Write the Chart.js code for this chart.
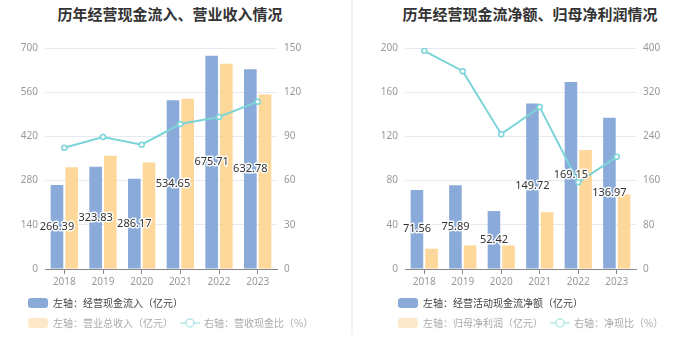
<!DOCTYPE html>
<html>
<head>
<meta charset="utf-8">
<script src="https://cdn.jsdelivr.net/npm/chart.js@4.4.0/dist/chart.umd.min.js"></script>
<style>
  body { margin: 0; width: 700px; height: 360px; background: #fff; position: relative; overflow: hidden;
         font-family: "Noto Sans CJK SC", "Noto Sans", sans-serif; }
  .title { position: absolute; top: 3px; font-size: 15px; font-weight: bold; color: #333; white-space: nowrap;
           transform: translateX(-50%); }
  canvas { position: absolute; top: 0; }
  .divider { position: absolute; left: 351px; top: 0; width: 2px; height: 335px; background: #f3f3f3; }
  .lg { position: absolute; font-size: 10px; line-height: 12px; white-space: nowrap; color: #444; }
  .lg.fade { color: #aaa; }
  .box { position: absolute; width: 20px; height: 10px; border-radius: 3px; }
  .mk { position: absolute; width: 20px; height: 10px; }
</style>
</head>
<body>
<div class="divider"></div>

<div class="title" style="left:170px">历年经营现金流入、营业收入情况</div>
<canvas id="leftChart" width="350" height="300" style="left:0"></canvas>
<div class="box" style="left:28px;top:298px;background:#8aabd9"></div>
<div class="lg" style="left:53px;top:297px">左轴：经营现金流入（亿元）</div>
<div class="box" style="left:28px;top:318px;background:#fde9c9"></div>
<div class="lg fade" style="left:53px;top:317px">左轴：营业总收入（亿元）</div>
<svg class="mk" style="left:180px;top:318px" viewBox="0 0 20 10"><line x1="0" y1="5" x2="20" y2="5" stroke="#b5e7ea" stroke-width="1.5"/><circle cx="10" cy="5" r="4" fill="#fff" stroke="#b5e7ea" stroke-width="1.5"/></svg>
<div class="lg fade" style="left:204px;top:317px">右轴：营收现金比（%）</div>

<div class="title" style="left:530px">历年经营现金流净额、归母净利润情况</div>
<canvas id="rightChart" width="348" height="300" style="left:352px"></canvas>
<div class="box" style="left:398px;top:298px;background:#8aabd9"></div>
<div class="lg" style="left:423px;top:297px">左轴：经营活动现金流净额（亿元）</div>
<div class="box" style="left:398px;top:318px;background:#fde9c9"></div>
<div class="lg fade" style="left:423px;top:317px">左轴：归母净利润（亿元）</div>
<svg class="mk" style="left:550px;top:318px" viewBox="0 0 20 10"><line x1="0" y1="5" x2="20" y2="5" stroke="#b5e7ea" stroke-width="1.5"/><circle cx="10" cy="5" r="4" fill="#fff" stroke="#b5e7ea" stroke-width="1.5"/></svg>
<div class="lg fade" style="left:574px;top:317px">右轴：净现比（%）</div>

<script>
// data
const years = ["2018", "2019", "2020", "2021", "2022", "2023"];
const cashInflow = [266.39, 323.83, 286.17, 534.65, 675.71, 632.78];
const totalRevenue = [322, 359, 337, 539, 650, 553];
const cashRevenueRatio = [82.3, 89.6, 84.4, 98.4, 103.2, 113.6];
const netCashFlow = [71.56, 75.89, 52.42, 149.72, 169.15, 136.97];
const netProfit = [18.4, 21.4, 21.4, 51.4, 107.7, 67.7];
const netCashRatio = [395, 358, 244, 293, 157, 203];

const BLUE = "#8aabd9";
const YELLOW = "#fed89a";
const TEAL = "#7bd4d8";
const tickFont = { family: "'Noto Sans', sans-serif", size: 10 };

// labels drawn in the middle of the blue bars
const barLabels = {
  id: "barLabels",
  afterDatasetsDraw(chart) {
    const ctx = chart.ctx;
    const meta = chart.getDatasetMeta(0);
    ctx.save();
    ctx.font = "11px 'Noto Sans', sans-serif";
    ctx.textAlign = "center";
    ctx.textBaseline = "middle";
    ctx.lineJoin = "round";
    meta.data.forEach((bar, i) => {
      const txt = chart.data.datasets[0].data[i].toFixed(2);
      const y = (bar.y + bar.base) / 2;
      ctx.strokeStyle = "rgba(255,255,255,0.9)";
      ctx.lineWidth = 3;
      ctx.strokeText(txt, bar.x, y);
      ctx.fillStyle = "#333";
      ctx.fillText(txt, bar.x, y);
    });
    ctx.restore();
  },
};

function makeChart(id, bars1, bars2, line, leftMax, rightMax, leftW, rightW) {
  const ctx = document.getElementById(id).getContext("2d");
  return new Chart(ctx, {
    type: "bar",
    data: {
      labels: years,
      datasets: [
        { data: bars1, backgroundColor: BLUE, yAxisID: "y", order: 1,
          categoryPercentage: 0.76, barPercentage: 0.86 },
        { data: bars2, backgroundColor: YELLOW, yAxisID: "y", order: 1,
          categoryPercentage: 0.76, barPercentage: 0.86 },
        { type: "line", data: line, yAxisID: "y1", order: 0,
          borderColor: TEAL, borderWidth: 2, pointRadius: 2.5, pointBorderWidth: 1.5,
          pointBackgroundColor: "#fff", pointBorderColor: TEAL, tension: 0 },
      ],
    },
    options: {
      responsive: false,
      animation: false,
      layout: { padding: { top: 48, left: 0, right: 0, bottom: 0 } },
      plugins: { legend: { display: false }, tooltip: { enabled: false } },
      scales: {
        x: {
          offset: true,
          grid: { offset: false, drawOnChartArea: false, drawTicks: true, tickLength: 5, color: "#888" },
          border: { color: "#888" },
          ticks: { color: "#999", font: tickFont, padding: 2 },
          afterFit(s) { s.height = 31; },
        },
        y: {
          position: "left", min: 0, max: leftMax, ticks: { stepSize: leftMax / 5, color: "#999", font: tickFont, padding: 7 },
          grid: { color: "#e6e9f1", drawTicks: false }, border: { display: false },
          afterFit(s) { s.width = leftW; },
        },
        y1: {
          position: "right", min: 0, max: rightMax, ticks: { stepSize: rightMax / 5, color: "#999", font: tickFont, padding: 7 },
          grid: { drawOnChartArea: false, drawTicks: false }, border: { display: false },
          afterFit(s) { s.width = rightW; },
        },
      },
    },
    plugins: [barLabels],
  });
}

makeChart("leftChart", cashInflow, totalRevenue, cashRevenueRatio, 700, 150, 45, 73);
makeChart("rightChart", netCashFlow, netProfit, netCashRatio, 200, 400, 53, 64);
</script>
</body>
</html>
